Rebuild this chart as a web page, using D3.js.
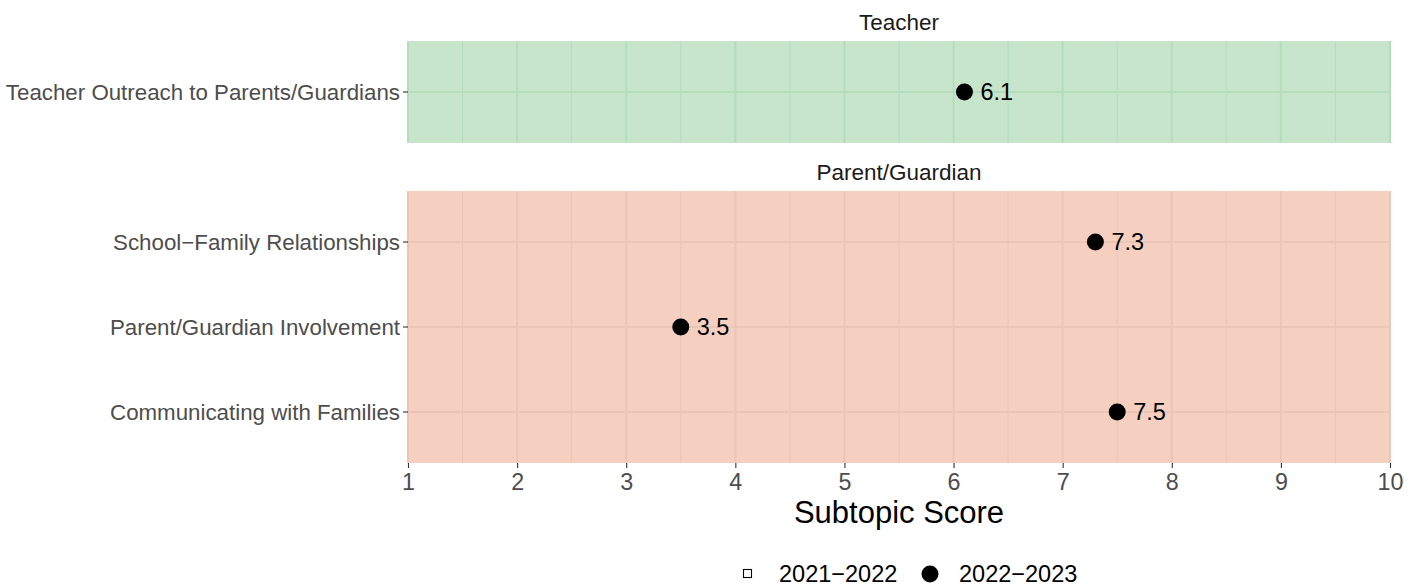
<!DOCTYPE html>
<html>
<head>
<meta charset="utf-8">
<script src="https://cdn.jsdelivr.net/npm/d3@7"></script>
<style>
  body { margin: 0; background: #fff; }
  text { font-family: "Liberation Sans", Arial, sans-serif; }
</style>
</head>
<body>
<div class="chart"></div>
<script>
let width = 1416, height = 586;

// data
let panels = ["Teacher", "Parent/Guardian"];
let teacherTopics = ["Teacher Outreach to Parents/Guardians"];
let teacherScores = [6.1];
let parentTopics = ["School\u2212Family Relationships", "Parent/Guardian Involvement", "Communicating with Families"];
let parentScores = [7.3, 3.5, 7.5];
let xTicks = [1, 2, 3, 4, 5, 6, 7, 8, 9, 10];
let seasons = ["2021\u22122022", "2022\u22122023"];

let panelFill = ["#c7e5cb", "#f5d0c0"];
let gridColor = ["#b7dcbc", "#ebc5b6"];

let margin = { left: 408, right: 26 };

let svg = d3.select(".chart").append("svg")
    .attr("width", width)
    .attr("height", height);

let x = d3.scaleLinear().domain([1, 10]).range([margin.left, width - margin.right]);

let layout = [
    { name: panels[0], topics: teacherTopics, scores: teacherScores, top: 41, bottom: 143 },
    { name: panels[1], topics: parentTopics, scores: parentScores, top: 191, bottom: 463 }
];

layout.forEach((p, i) => {
    let n = p.topics.length;
    // discrete scale with ggplot-like expansion of 0.6
    let yPos = d3.scaleLinear().domain([0.4, n + 0.6]).range([p.top, p.bottom]);
    let y = t => yPos(p.topics.indexOf(t) + 1);

    let g = svg.append("g");

    g.append("rect")
        .attr("x", x(1)).attr("y", p.top)
        .attr("width", x(10) - x(1)).attr("height", p.bottom - p.top)
        .attr("fill", panelFill[i]);

    // minor grid
    d3.range(1.5, 10, 1).forEach(v => {
        g.append("line")
            .attr("x1", x(v)).attr("x2", x(v))
            .attr("y1", p.top).attr("y2", p.bottom)
            .attr("stroke", gridColor[i]).attr("stroke-width", 1.1);
    });
    // major grid
    xTicks.forEach(v => {
        g.append("line")
            .attr("x1", x(v)).attr("x2", x(v))
            .attr("y1", p.top).attr("y2", p.bottom)
            .attr("stroke", gridColor[i]).attr("stroke-width", 2);
    });
    p.topics.forEach(t => {
        g.append("line")
            .attr("x1", x(1)).attr("x2", x(10))
            .attr("y1", y(t)).attr("y2", y(t))
            .attr("stroke", gridColor[i]).attr("stroke-width", 2);
    });

    // strip title
    svg.append("text")
        .attr("x", (x(1) + x(10)) / 2).attr("y", p.top - 11)
        .attr("text-anchor", "middle")
        .attr("font-size", 22.5).attr("fill", "#1a1a1a")
        .text(p.name);

    // y axis
    let yAxis = svg.append("g");
    p.topics.forEach(t => {
        yAxis.append("line")
            .attr("x1", x(1) - 5).attr("x2", x(1))
            .attr("y1", y(t)).attr("y2", y(t))
            .attr("stroke", "#333").attr("stroke-width", 1.1);
        yAxis.append("text")
            .attr("x", x(1) - 8).attr("y", y(t))
            .attr("dy", "0.36em").attr("text-anchor", "end")
            .attr("font-size", 22.3).attr("fill", "#4d4d4d")
            .text(t);
    });

    // points
    p.topics.forEach((t, k) => {
        g.append("circle")
            .attr("cx", x(p.scores[k])).attr("cy", y(t))
            .attr("r", 8.5).attr("fill", "#000");
        g.append("text")
            .attr("x", x(p.scores[k]) + 16).attr("y", y(t))
            .attr("dy", "0.36em")
            .attr("font-size", 23.5).attr("fill", "#000")
            .text(p.scores[k].toFixed(1));
    });
});

// x axis under the last panel
let axisY = layout[1].bottom;
let xAxis = svg.append("g").attr("transform", `translate(0,${axisY})`)
    .call(d3.axisBottom(x).tickValues(xTicks).tickSize(5).tickPadding(5.5).tickFormat(d3.format("d")));
xAxis.select(".domain").remove();
xAxis.selectAll(".tick line").attr("stroke", "#333").attr("stroke-width", 1.1);
xAxis.selectAll(".tick text")
    .attr("font-size", 23.3).attr("fill", "#4d4d4d")
    .attr("font-family", "Liberation Sans, Arial, sans-serif");

svg.append("text")
    .attr("x", (x(1) + x(10)) / 2).attr("y", 523)
    .attr("text-anchor", "middle")
    .attr("font-size", 31).attr("fill", "#000")
    .text("Subtopic Score");

// legend
let legendY = 574;
let lg = svg.append("g");
lg.append("rect")
    .attr("x", 743.5).attr("y", legendY - 4.5)
    .attr("width", 8).attr("height", 8)
    .attr("fill", "none").attr("stroke", "#000").attr("stroke-width", 1.1);
lg.append("text")
    .attr("x", 779).attr("y", legendY).attr("dy", "0.36em")
    .attr("font-size", 23.5).attr("fill", "#000")
    .text(seasons[0]);
lg.append("circle")
    .attr("cx", 930).attr("cy", legendY).attr("r", 8.5).attr("fill", "#000");
lg.append("text")
    .attr("x", 959).attr("y", legendY).attr("dy", "0.36em")
    .attr("font-size", 23.5).attr("fill", "#000")
    .text(seasons[1]);
</script>
</body>
</html>
